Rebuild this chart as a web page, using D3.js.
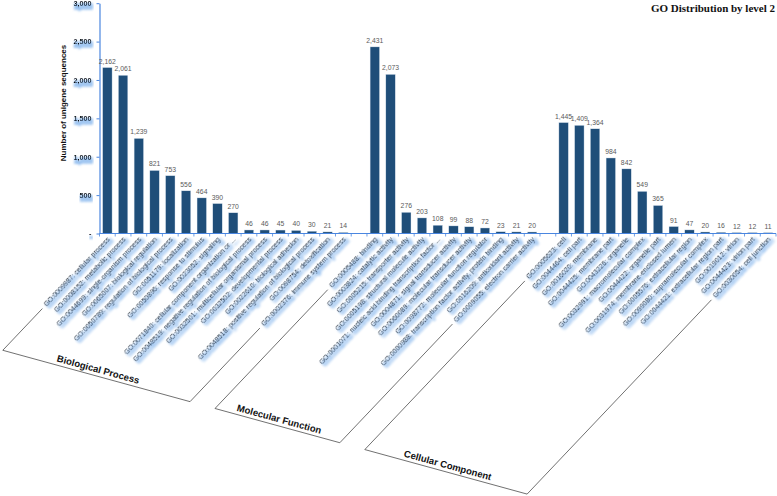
<!DOCTYPE html>
<html><head><meta charset="utf-8">
<script src="https://cdn.jsdelivr.net/npm/d3@7"></script>
<style>body{margin:0;background:#fff} svg{display:block}</style>
</head><body><svg id="c" width="777" height="496"></svg>
<script>
const bpLabels = [
  "GO:0009987: cellular process",
  "GO:0008152: metabolic process",
  "GO:0044699: single-organism process",
  "GO:0065007: biological regulation",
  "GO:0050789: regulation of biological process",
  "GO:0051179: localization",
  "GO:0050896: response to stimulus",
  "GO:0023052: signaling",
  "GO:0071840: cellular component organization or ...",
  "GO:0048519: negative regulation of biological process",
  "GO:0032501: multicellular organismal process",
  "GO:0032502: developmental process",
  "GO:0022610: biological adhesion",
  "GO:0048518: positive regulation of biological process",
  "GO:0098754: detoxification",
  "GO:0002376: immune system process"
];
const bpValues = [2162, 2061, 1239, 821, 753, 556, 464, 390, 270, 46, 46, 45, 40, 30, 21, 14];

const mfLabels = [
  "GO:0005488: binding",
  "GO:0003824: catalytic activity",
  "GO:0005215: transporter activity",
  "GO:0005198: structural molecule activity",
  "GO:0001071: nucleic acid binding transcription factor ...",
  "GO:0004871: signal transducer activity",
  "GO:0060089: molecular transducer activity",
  "GO:0098772: molecular function regulator",
  "GO:0000988: transcription factor activity, protein binding",
  "GO:0016209: antioxidant activity",
  "GO:0009055: electron carrier activity"
];
const mfValues = [2431, 2073, 276, 203, 108, 99, 88, 72, 23, 21, 20];

const ccLabels = [
  "GO:0005623: cell",
  "GO:0044464: cell part",
  "GO:0016020: membrane",
  "GO:0044425: membrane part",
  "GO:0043226: organelle",
  "GO:0032991: macromolecular complex",
  "GO:0044422: organelle part",
  "GO:0031974: membrane-enclosed lumen",
  "GO:0005576: extracellular region",
  "GO:0099080: supramolecular complex",
  "GO:0044421: extracellular region part",
  "GO:0019012: virion",
  "GO:0044423: virion part",
  "GO:0030054: cell junction"
];
const ccValues = [1445, 1409, 1364, 984, 842, 549, 365, 91, 47, 20, 16, 12, 12, 11];

const groupNames = ["Biological Process", "Molecular Function", "Cellular Component"];
const yTicks = [0, 500, 1000, 1500, 2000, 2500, 3000];
const chartTitle = "GO Distribution by level 2";
const yTitle = "Number of unigene sequences";

// ---------- build ----------
const groups = [
  {name: groupNames[0], labels: bpLabels, values: bpValues},
  {name: groupNames[1], labels: mfLabels, values: mfValues},
  {name: groupNames[2], labels: ccLabels, values: ccValues}
];
const keys = [];
const rows = [];
groups.forEach((g, gi) => {
  if (gi > 0) keys.push("__gap" + gi);
  g.labels.forEach((l, i) => { keys.push(l); rows.push({label: l, value: g.values[i], group: gi}); });
});

const FONT = "'Liberation Sans', Arial, sans-serif";
const svg = d3.select("#c");
const defs = svg.append("defs");
const glowColor = "#7fb2ec";
const f = defs.append("filter").attr("id", "glow")
  .attr("x", "-10%").attr("y", "-80%").attr("width", "120%").attr("height", "300%");
f.append("feMorphology").attr("in", "SourceAlpha").attr("operator", "dilate").attr("radius", 0.7).attr("result", "d");
f.append("feGaussianBlur").attr("in", "d").attr("stdDeviation", 1.3).attr("result", "b");
f.append("feOffset").attr("in", "b").attr("dx", 0.5).attr("dy", 2.6).attr("result", "o");
f.append("feFlood").attr("flood-color", glowColor).attr("flood-opacity", 0.85).attr("result", "c");
f.append("feComposite").attr("in", "c").attr("in2", "o").attr("operator", "in").attr("result", "s");
const mg = f.append("feMerge");
mg.append("feMergeNode").attr("in", "s");
mg.append("feMergeNode").attr("in", "SourceGraphic");

const axisY = 233.5;
const x = d3.scaleBand().domain(keys).range([99.5, 776]).paddingInner(0.4).paddingOuter(0.2);
const y = d3.scaleLinear().domain([0, 3000]).range([axisY, 3.2]);
const axisColor = "#4a86e0";

// title
svg.append("text").attr("x", 775).attr("y", 12).attr("text-anchor", "end")
  .attr("font-family", "'Liberation Serif', 'Times New Roman', serif").attr("font-weight", "bold")
  .attr("font-size", 11).attr("fill", "#111").text(chartTitle);

// y axis
const fmtTick = d => d === 0 ? "-" : d3.format(",")(d);
const yAxis = svg.append("g").attr("transform", "translate(99.5,0)")
  .call(d3.axisLeft(y).tickValues(yTicks).tickSize(3).tickSizeOuter(0).tickPadding(5).tickFormat(fmtTick));
yAxis.select(".domain").attr("stroke", axisColor).attr("stroke-width", 1.2);
yAxis.selectAll(".tick line").attr("stroke", axisColor);
yAxis.selectAll(".tick text").attr("font-family", FONT).attr("font-size", 7.2)
  .attr("font-weight", "bold").attr("fill", "#111").attr("filter", "url(#glow)");

svg.append("text").attr("transform", "translate(66,103) rotate(-90)")
  .attr("text-anchor", "middle").attr("font-family", FONT).attr("font-weight", "bold")
  .attr("font-size", 8).attr("fill", "#111").text(yTitle);

// bars
svg.append("g").selectAll("rect").data(rows).join("rect")
  .attr("x", d => x(d.label)).attr("width", x.bandwidth())
  .attr("y", d => y(d.value)).attr("height", d => axisY - y(d.value))
  .attr("fill", "#1f4e79").attr("stroke", "#dfe8f3").attr("stroke-width", 0.4);

// value labels
svg.append("g").selectAll("text").data(rows).join("text")
  .attr("x", d => x(d.label) + x.bandwidth() / 2).attr("y", d => y(d.value) - 4)
  .attr("text-anchor", "middle").attr("font-family", FONT).attr("font-size", 6.8)
  .attr("fill", "#5a5a5a").text(d => d3.format(",")(d.value));

// x axis line and ticks
const step = x.step();
const gapHalf = (step - x.bandwidth()) / 2;
svg.append("line").attr("x1", 99.5).attr("x2", 776).attr("y1", axisY).attr("y2", axisY)
  .attr("stroke", axisColor).attr("stroke-width", 1.2);
const bounds = keys.map(k => x(k) - gapHalf).concat([x(keys[keys.length - 1]) + x.bandwidth() + gapHalf]);
svg.append("g").selectAll("line").data(bounds).join("line")
  .attr("x1", d => d).attr("x2", d => d).attr("y1", axisY).attr("y2", axisY + 3)
  .attr("stroke", axisColor).attr("stroke-width", 0.8);

// category labels
const ANG = 46.5;
const A = ANG * Math.PI / 180;
const dir = [-Math.cos(A), Math.sin(A)];
const labY = 238.5;
const labTf = d => `translate(${x(d.label) + x.bandwidth() / 2 + 1.5},${labY}) rotate(${-ANG})`;
const lab = svg.append("g").selectAll("text").data(rows).join("text")
  .attr("transform", labTf)
  .attr("text-anchor", "end").attr("dy", "0.35em")
  .attr("font-family", FONT).attr("font-size", 7).attr("fill", "#000")
  .attr("filter", "url(#glow)").text(d => d.label);
const lens = {};
lab.each(function (d) { lens[d.label] = this.getComputedTextLength(); });

// group brackets
const pt = (k, L) => {
  const cx = x(k) + x.bandwidth() / 2 + 1.5;
  return [cx + dir[0] * L, labY + dir[1] * L];
};
const bottomLen = k => { const cx = x(k) + x.bandwidth() / 2; return 154 + 0.3 * (cx - 107); };
groups.forEach(g => {
  const first = g.labels[0], last = g.labels[g.labels.length - 1];
  const tl = pt(first, lens[first] + 4), bl = pt(first, bottomLen(first));
  const tr = pt(last, lens[last] + 4), br = pt(last, bottomLen(last));
  svg.append("path").attr("d", `M${tl}L${bl}L${br}L${tr}`)
    .attr("fill", "none").attr("stroke", "#4d4d4d").attr("stroke-width", 0.8);
  const mx = (bl[0] + br[0]) / 2, my = (bl[1] + br[1]) / 2;
  const ang = Math.atan2(br[1] - bl[1], br[0] - bl[0]) * 180 / Math.PI;
  svg.append("text").attr("transform", `translate(${mx},${my}) rotate(${ang})`)
    .attr("y", -3.5).attr("text-anchor", "middle").attr("font-family", FONT)
    .attr("font-weight", "bold").attr("font-size", 9.5).attr("fill", "#111").text(g.name);
});
</script>
</body></html>
